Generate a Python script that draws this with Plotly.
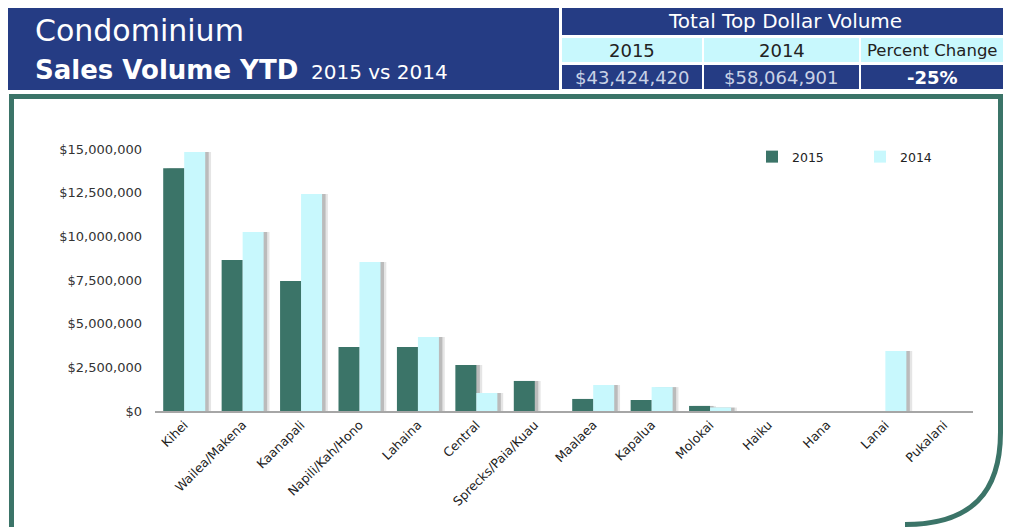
import plotly.graph_objects as go

# ---------------- data ----------------
categories = ["Kihei", "Wailea/Makena", "Kaanapali", "Napili/Kah/Hono", "Lahaina",
              "Central", "Sprecks/Paia/Kuau", "Maalaea", "Kapalua", "Molokai",
              "Haiku", "Hana", "Lanai", "Pukalani"]
vol_2015 = [13900000, 8640000, 7440000, 3660000, 3660000, 2630000, 1720000,
            690000, 630000, 290000, 0, 0, 0, 0]
vol_2014 = [14830000, 10250000, 12420000, 8530000, 4240000, 1030000, 0,
            1490000, 1370000, 200000, 0, 0, 3430000, 0]
ytick_vals = [0, 2500000, 5000000, 7500000, 10000000, 12500000, 15000000]

title_line1 = "Condominium"
title_line2_bold = "Sales Volume YTD"
title_line2_small = "2015 vs 2014"
table_title = "Total Top Dollar Volume"
table_headers = ["2015", "2014", "Percent Change"]
table_values = ["$43,424,420", "$58,064,901", "-25%"]

# ---------------- geometry (screen pixels; page body has an 8px margin) ----------------
WIN_W, WIN_H = 1011, 527
OFF = 8
FW, FH = WIN_W - OFF, WIN_H - OFF
L, R, T, B = 155, 973, 149, 411
PW, PH = R - L, B - T


def px(x):
    return (x - L) / PW


def py(y):
    return (B - y) / PH


NAVY = "#253c84"
CYAN = "#c8f8fd"
GREEN = "#3b7468"
FONT = "DejaVu Sans"

bw = 21 / (PW / len(categories))

fig = go.Figure()

# soft shadows
for vals, off in ((vol_2015, -bw), (vol_2014, 0.0)):
    for shift, alpha in ((0.10, 0.10), (0.06, 0.18)):
        fig.add_trace(go.Bar(x=categories, y=vals, width=bw, offset=off + shift,
                             marker=dict(color=f"rgba(0,0,0,{alpha})", line=dict(width=0)),
                             showlegend=False, hoverinfo="skip"))

fig.add_trace(go.Bar(name="2015", x=categories, y=vol_2015, width=bw, offset=-bw,
                     marker=dict(color=GREEN, line=dict(width=0))))
fig.add_trace(go.Bar(name="2014", x=categories, y=vol_2014, width=bw, offset=0.0,
                     marker=dict(color=CYAN, line=dict(width=0))))

shapes = []


def rect(x0, y0, x1, y1, color):
    shapes.append(dict(type="rect", xref="paper", yref="paper",
                       x0=px(x0), x1=px(x1), y0=py(y1), y1=py(y0),
                       fillcolor=color, line=dict(width=0), layer="below"))


# header left box
rect(8, 6, 559, 90, NAVY)
# table
rect(562, 7, 1008, 35, NAVY)
cols = [(562, 702), (704, 859), (861, 1008)]
for x0, x1 in cols:
    rect(x0, 38, x1, 62, CYAN)
    rect(x0, 65, x1, 89, NAVY)

# green frame with rounded bottom-right corner
RX = 1000.5
pts = [(11.5, 530), (11.5, 96.5), (RX, 96.5), (RX, 432)]
path = "M {:.5f},{:.5f}".format(px(pts[0][0]), py(pts[0][1]))
for (x, y) in pts[1:]:
    path += " L {:.5f},{:.5f}".format(px(x), py(y))
c1, c2, e = (RX, 492), (972, 524.5), (905, 524.5)
path += " C {:.5f},{:.5f} {:.5f},{:.5f} {:.5f},{:.5f}".format(
    px(c1[0]), py(c1[1]), px(c2[0]), py(c2[1]), px(e[0]), py(e[1]))
shapes.append(dict(type="path", xref="paper", yref="paper", path=path,
                   line=dict(color=GREEN, width=5), layer="below"))

annotations = []


def text(x, y, s, size, color, anchor="left", weight="normal"):
    annotations.append(dict(xref="paper", yref="paper", x=px(x), y=py(y), text=s,
                            showarrow=False, xanchor=anchor, yanchor="middle",
                            font=dict(family=FONT, size=size, color=color, weight=weight)))


text(33, 30, title_line1, 30, "white")
text(33, 70, "<b>" + title_line2_bold + "</b>"
     + "<span style='font-size:20px'>&nbsp; " + title_line2_small + "</span>", 26, "white")
text(785, 21, table_title, 20, "white", anchor="center")
hsizes = [18, 18, 16.5]
for (x0, x1), h, s in zip(cols, table_headers, hsizes):
    text((x0 + min(x1, 1003)) / 2, 50.5, h, s, "#222222", anchor="center")
text((cols[0][0] + cols[0][1]) / 2, 77.5, table_values[0], 18, "#c9d2e6", anchor="center")
text((cols[1][0] + cols[1][1]) / 2, 77.5, table_values[1], 18, "#c9d2e6", anchor="center")
text((cols[2][0] + 1003) / 2, 77.5, "<b>" + table_values[2] + "</b>", 18, "white", anchor="center")

fig.update_layout(
    width=FW, height=FH,
    margin=dict(l=L - OFF, r=WIN_W - R, t=T - OFF, b=WIN_H - B, autoexpand=False),
    paper_bgcolor="white", plot_bgcolor="white",
    barmode="overlay",
    shapes=shapes, annotations=annotations,
    font=dict(family=FONT, size=12, color="#333333"),
    legend=dict(orientation="h", x=px(752), y=py(157), xanchor="left", yanchor="middle",
                entrywidth=63, entrywidthmode="pixels", traceorder="normal",
                font=dict(family=FONT, size=12.5, color="#222222"),
                bgcolor="rgba(0,0,0,0)"),
    xaxis=dict(showgrid=False, showline=True, linecolor="#a6a6a6", linewidth=1.5,
               ticks="", tickangle=-45, tickfont=dict(family=FONT, size=12.5, color="#222222"),
               range=[-0.5, len(categories) - 0.5], fixedrange=True),
    yaxis=dict(showgrid=False, showline=False, zeroline=False, ticks="",
               tickvals=ytick_vals, tickformat="$,.0f", range=[0, 15000000],
               tickfont=dict(family=FONT, size=13, color="#333333"),
               ticklabelstandoff=12, fixedrange=True),
    showlegend=True,
)

fig.write_html("out.html")
